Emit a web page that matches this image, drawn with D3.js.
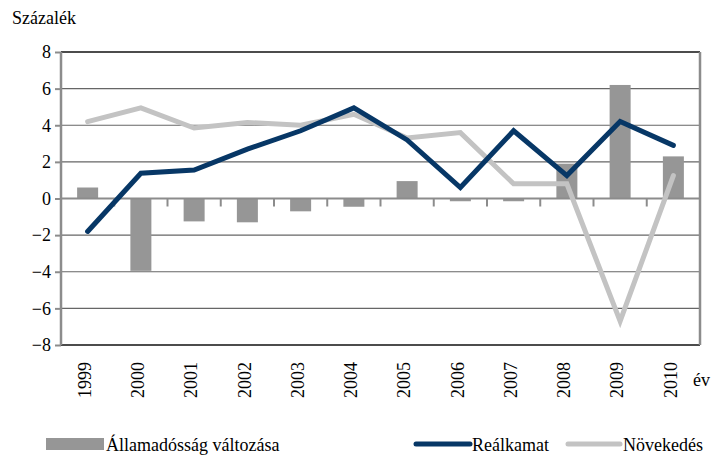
<!DOCTYPE html>
<html>
<head>
<meta charset="utf-8">
<script src="https://cdn.jsdelivr.net/npm/d3@7"></script>
<style>
  body { margin: 0; background: #fff; }
  svg text { font-family: "Liberation Serif", "Times New Roman", Times, "DejaVu Serif", serif; fill: #000; }
</style>
</head>
<body>
<div id="chart"></div>
<script>
const years = ["1999", "2000", "2001", "2002", "2003", "2004", "2005", "2006", "2007", "2008", "2009", "2010"];
const adossag = [0.6, -3.95, -1.25, -1.3, -0.7, -0.45, 0.95, -0.15, -0.15, 1.9, 6.2, 2.3];
const realkamat = [-1.8, 1.38, 1.55, 2.7, 3.7, 4.95, 3.2, 0.6, 3.7, 1.25, 4.2, 2.9];
const novekedes = [4.2, 4.95, 3.85, 4.15, 4.0, 4.6, 3.3, 3.6, 0.8, 0.8, -6.7, 1.25];
const yTicks = [-8, -6, -4, -2, 0, 2, 4, 6, 8];

const serif = '"Liberation Serif", "Times New Roman", Times, "DejaVu Serif", serif';
const width = 720;
const height = 457;
const margin = {top: 52, right: 20, bottom: 112, left: 61};

const svg = d3.select("#chart")
    .append("svg")
    .attr("width", width)
    .attr("height", height)
    .attr("font-family", serif);

const x = d3.scaleBand()
    .domain(years)
    .range([margin.left, width - margin.right]);

const y = d3.scaleLinear()
    .domain([-8, 8])
    .range([height - margin.bottom, margin.top]);

// gridlines
svg.append("g")
    .selectAll("line")
    .data(yTicks.filter(d => d !== 0))
    .join("line")
    .attr("x1", margin.left)
    .attr("x2", width - margin.right)
    .attr("y1", d => y(d))
    .attr("y2", d => y(d))
    .attr("stroke", d => Math.abs(d) === 8 ? "#111" : "#666")
    .attr("stroke-width", d => Math.abs(d) === 8 ? 1.6 : 1.2);

// bars
svg.append("g")
    .selectAll("rect")
    .data(years.map((yr, i) => ({yr, v: adossag[i]})))
    .join("rect")
    .attr("x", d => x(d.yr) + x.bandwidth() / 2 - 10.5)
    .attr("width", 21)
    .attr("y", d => y(Math.max(0, d.v)))
    .attr("height", d => Math.abs(y(d.v) - y(0)))
    .attr("fill", "#969696");

// zero line with category ticks
svg.append("line")
    .attr("x1", margin.left)
    .attr("x2", width - margin.right)
    .attr("y1", y(0))
    .attr("y2", y(0))
    .attr("stroke", "#8c8c8c")
    .attr("stroke-width", 2);

svg.append("g")
    .selectAll("line")
    .data(years.slice(1))
    .join("line")
    .attr("x1", d => x(d))
    .attr("x2", d => x(d))
    .attr("y1", y(0))
    .attr("y2", y(0) + 8)
    .attr("stroke", "#8c8c8c")
    .attr("stroke-width", 2);

// left axis
const yAxis = svg.append("g")
    .attr("transform", `translate(${margin.left},0)`)
    .call(d3.axisLeft(y).tickValues(yTicks).tickSize(6).tickPadding(4));
yAxis.attr("font-family", serif).attr("font-size", 18);
yAxis.select(".domain").attr("stroke", "#8c8c8c").attr("stroke-width", 2.5)
    .attr("d", `M0,${y(8)}V${y(-8)}`);
yAxis.selectAll(".tick line").attr("stroke", "#8c8c8c").attr("stroke-width", 2);
yAxis.selectAll(".tick text")
    .style("font-family", serif)
    .style("font-size", "18px")
    .attr("fill", "#000");

// right border
svg.append("line")
    .attr("x1", width - margin.right)
    .attr("x2", width - margin.right)
    .attr("y1", y(8))
    .attr("y2", y(-8))
    .attr("stroke", "#8c8c8c")
    .attr("stroke-width", 2.5);

// lines
const line = d3.line()
    .x((d, i) => x(years[i]) + x.bandwidth() / 2)
    .y(d => y(d));

svg.append("path")
    .datum(novekedes)
    .attr("d", line)
    .attr("fill", "none")
    .attr("stroke", "#c3c3c3")
    .attr("stroke-width", 5)
    .attr("stroke-linejoin", "miter")
    .attr("stroke-linecap", "round");

svg.append("path")
    .datum(realkamat)
    .attr("d", line)
    .attr("fill", "none")
    .attr("stroke", "#073766")
    .attr("stroke-width", 5)
    .attr("stroke-linejoin", "miter")
    .attr("stroke-linecap", "round");

// x labels
svg.append("g")
    .selectAll("text")
    .data(years)
    .join("text")
    .attr("transform", d => `translate(${x(d) + x.bandwidth() / 2 - 3},362) rotate(-90)`)
    .attr("text-anchor", "end")
    .attr("dy", "0.35em")
    .style("font-family", serif)
    .style("font-size", "18px")
    .text(d => d);

svg.append("text")
    .attr("x", 693)
    .attr("y", 386)
    .style("font-family", serif)
    .style("font-size", "18px")
    .text("év");

svg.append("text")
    .attr("x", 12)
    .attr("y", 24)
    .style("font-family", serif)
    .style("font-size", "18px")
    .text("Százalék");

// legend
const lg = svg.append("g");
lg.append("rect")
    .attr("x", 46).attr("y", 438).attr("width", 58).attr("height", 12)
    .attr("fill", "#969696");
lg.append("text")
    .attr("x", 106).attr("y", 451)
    .style("font-family", serif)
    .style("font-size", "18px")
    .text("Államadósság változása");

lg.append("line")
    .attr("x1", 416).attr("x2", 470).attr("y1", 444).attr("y2", 444)
    .attr("stroke", "#073766").attr("stroke-width", 5).attr("stroke-linecap", "round");
lg.append("text")
    .attr("x", 472).attr("y", 451)
    .style("font-family", serif)
    .style("font-size", "18px")
    .text("Reálkamat");

lg.append("line")
    .attr("x1", 568).attr("x2", 620).attr("y1", 444).attr("y2", 444)
    .attr("stroke", "#c3c3c3").attr("stroke-width", 5).attr("stroke-linecap", "round");
lg.append("text")
    .attr("x", 623).attr("y", 451)
    .style("font-family", serif)
    .style("font-size", "18px")
    .text("Növekedés");
</script>
</body>
</html>
